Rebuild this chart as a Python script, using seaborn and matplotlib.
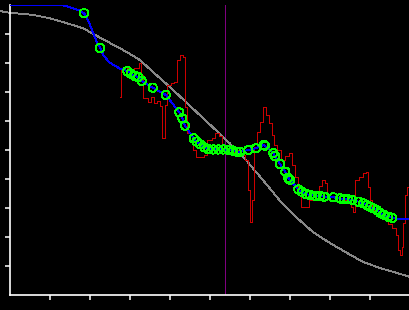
import matplotlib
matplotlib.use("Agg")
import matplotlib.pyplot as plt
import seaborn as sns
import pandas as pd

# Smooth reference curve (gray)
gray_x = [-0.25, 0.0, 0.575, 1.0, 1.425, 1.825, 2.125, 2.5, 2.75, 3.0, 3.25, 3.575,
          4.0, 4.425, 4.825, 5.25, 5.5, 5.92, 6.33, 6.75, 7.175, 7.575, 8.0, 8.425,
          8.825, 9.25, 9.675, 10.0]
gray_y = [9.79, 9.73, 9.66, 9.54, 9.37, 9.20, 8.97, 8.69, 8.51, 8.31, 8.10, 7.69,
          7.17, 6.62, 6.10, 5.55, 5.22, 4.62, 3.95, 3.25, 2.66, 2.17, 1.79, 1.45,
          1.14, 0.93, 0.76, 0.62]

# Noisy signal (red, step)
red_x = [2.75, 2.775, 2.925, 3.025, 3.1, 3.225, 3.275, 3.325, 3.45, 3.525, 3.6, 3.675,
         3.75, 3.8, 3.875, 3.925, 4.025, 4.1, 4.175, 4.25, 4.325, 4.375, 4.425, 4.5,
         4.575, 4.65, 4.85, 4.925, 5.05, 5.125, 5.225, 5.3, 5.4, 5.55, 5.675, 5.775,
         5.875, 5.95, 6.0, 6.05, 6.1, 6.175, 6.25, 6.325, 6.4, 6.475, 6.55, 6.6,
         6.675, 6.775, 6.875, 6.975, 7.05, 7.125, 7.2, 7.275, 7.375, 7.475, 7.575,
         7.65, 7.725, 7.8, 7.875, 7.925, 8.0, 8.15, 8.3, 8.45, 8.525, 8.575, 8.625,
         8.725, 8.825, 8.9, 8.95, 9.0, 9.05, 9.15, 9.25, 9.35, 9.45, 9.55, 9.65, 9.7,
         9.75, 9.8, 9.825, 9.875, 9.925, 10.0]
red_y = [6.83, 7.76, 7.83, 7.69, 7.83, 8.00, 7.59, 6.79, 6.66, 6.83, 6.62, 6.69,
         6.52, 5.41, 6.55, 7.24, 7.31, 7.34, 8.10, 8.28, 8.21, 6.48, 5.59, 5.28,
         5.00, 4.76, 4.83, 5.34, 5.41, 5.59, 5.48, 5.17, 5.00, 4.93, 5.00, 4.83,
         4.66, 3.62, 2.52, 3.28, 5.10, 5.62, 5.97, 6.48, 6.21, 5.93, 5.52, 5.17,
         5.00, 4.66, 4.79, 4.90, 4.48, 4.07, 3.69, 3.03, 3.03, 3.28, 3.38,
         3.55, 3.76, 3.97, 3.86, 3.45, 3.28, 3.24, 3.28, 3.31, 3.03, 2.86, 3.97,
         4.07, 4.21, 4.24, 3.72, 3.28, 2.93, 2.79, 2.69, 2.62, 2.45, 2.31, 2.07, 1.55,
         1.38, 1.66, 2.48, 3.45, 3.72, 3.79]

# Estimated points (green circles)
pt_x = [1.85, 2.25, 2.933, 3.018, 3.125, 3.208, 3.293, 3.568, 3.893, 4.233, 4.308,
        4.375, 4.593, 4.668, 4.75, 4.858, 4.958, 5.083, 5.208, 5.333, 5.458, 5.575,
        5.668, 5.75, 5.958, 6.15, 6.35, 6.37, 6.583, 6.625, 6.75, 6.883, 6.958, 7.0,
        7.208, 7.293, 7.4, 7.5, 7.625, 7.75, 7.858, 8.083, 8.25, 8.35, 8.443, 8.558,
        8.708, 8.833, 8.918, 9.0, 9.083, 9.168, 9.25, 9.35, 9.458, 9.558]
pt_y = [9.72, 8.52, 7.72, 7.64, 7.55, 7.51, 7.38, 7.15, 6.90, 6.30, 6.09,
        5.84, 5.40, 5.29, 5.20, 5.09, 5.03, 5.02, 5.02, 5.02, 5.00, 4.98,
        4.94, 4.94, 5.00, 5.06, 5.17, 5.15, 4.89, 4.79, 4.52, 4.25, 4.04, 3.97,
        3.64, 3.56, 3.48, 3.45, 3.42, 3.41, 3.39, 3.37, 3.33, 3.31, 3.30, 3.28,
        3.22, 3.16, 3.10, 3.04, 2.99, 2.93, 2.84, 2.77, 2.70, 2.66]

# Fitted path (blue): lead-in, through points, tail
blue_lead_x = [0.0, 0.75, 1.25, 1.4, 1.55, 1.7]
blue_lead_y = [10.0, 10.0, 10.0, 9.97, 9.90, 9.83]
blue_mid_x = [1.95, 2.05, 2.15]
blue_mid_y = [9.48, 9.14, 8.79]
blue_mid2_x = [2.35, 2.475, 2.625, 2.775]
blue_mid2_y = [8.24, 8.03, 7.90, 7.79]
blue_tail_x = [9.7, 10.0]
blue_tail_y = [2.62, 2.62]

marker_x = 5.375

LW = 0.72  # one pixel at 100 dpi

plt.rcParams["lines.antialiased"] = False
sns.set_style("dark", {"axes.facecolor": "black", "figure.facecolor": "black"})

fig = plt.figure(figsize=(4.1, 3.1), dpi=100)
fig.patch.set_facecolor("black")
ax = fig.add_axes([10 / 410, 15 / 310, 400 / 410, 290 / 310])
ax.set_facecolor("black")

ax.axvline(marker_x, color="#800080", lw=LW, zorder=1)

gray_df = pd.DataFrame({"x": gray_x, "y": gray_y})
sns.lineplot(data=gray_df, x="x", y="y", sort=False, estimator=None, ax=ax,
             color="#888888", lw=0.65, clip_on=False, zorder=2)

red_df = pd.DataFrame({"x": red_x, "y": red_y})
sns.lineplot(data=red_df, x="x", y="y", sort=False, estimator=None, ax=ax,
             color="#cc0000", lw=LW, drawstyle="steps-post", zorder=3)

# blue path through points
bx = blue_lead_x + [pt_x[0]] + blue_mid_x + [pt_x[1]] + blue_mid2_x + pt_x[2:] + blue_tail_x
by = blue_lead_y + [pt_y[0]] + blue_mid_y + [pt_y[1]] + blue_mid2_y + pt_y[2:] + blue_tail_y
blue_df = pd.DataFrame({"x": bx, "y": by})
sns.lineplot(data=blue_df, x="x", y="y", sort=False, estimator=None, ax=ax,
             color="#0000ff", lw=0.65, zorder=4)

pts_df = pd.DataFrame({"x": pt_x, "y": pt_y})
sns.scatterplot(data=pts_df, x="x", y="y", ax=ax, s=36, facecolor="none",
                edgecolor="#00ff00", linewidth=0.65, zorder=5, antialiased=False)

ax.set_xlim(0, 10)
ax.set_ylim(0, 10)
ax.set_xticks(range(1, 10))
ax.set_yticks(range(1, 10))
ax.set_xticklabels([])
ax.set_yticklabels([])
ax.set_xlabel("")
ax.set_ylabel("")
ax.grid(False)
for side in ["top", "right"]:
    ax.spines[side].set_visible(False)
for side in ["left", "bottom"]:
    ax.spines[side].set_visible(True)
    ax.spines[side].set_color("white")
    ax.spines[side].set_linewidth(1.2)
ax.tick_params(axis="both", which="both", direction="out", length=3.5, width=1.1,
               colors="white", bottom=True, left=True)

fig.savefig("out.png", dpi=100, facecolor="black")
